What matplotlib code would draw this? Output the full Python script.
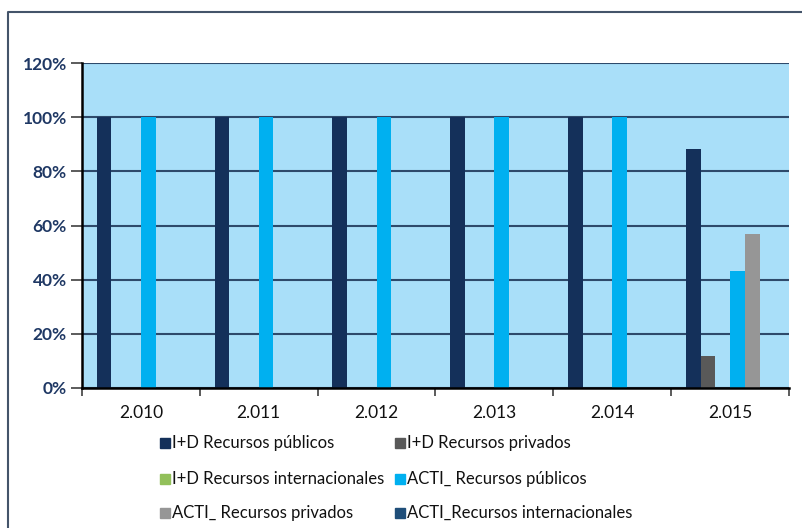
import matplotlib
matplotlib.use("Agg")
import matplotlib.pyplot as plt
import numpy as np
from matplotlib.patches import Rectangle
from matplotlib.lines import Line2D

years = ['2.010', '2.011', '2.012', '2.013', '2.014', '2.015']
series_names = ['I+D Recursos públicos', 'I+D Recursos privados',
                'I+D Recursos internacionales', 'ACTI_ Recursos públicos',
                'ACTI_ Recursos privados', 'ACTI_Recursos internacionales']
id_publicos = [100, 100, 100, 100, 100, 88.2]
id_privados = [0, 0, 0, 0, 0, 11.8]
id_internacionales = [0, 0, 0, 0, 0, 0]
acti_publicos = [100, 100, 100, 100, 100, 43.2]
acti_privados = [0, 0, 0, 0, 0, 56.8]
acti_internacionales = [0, 0, 0, 0, 0, 0]
colors = ['#14305A', '#595959', '#92C05A', '#00B0F0', '#969696', '#1F4E79']
yticks = [0, 20, 40, 60, 80, 100, 120]

plt.rcParams['font.family'] = ['Lato', 'DejaVu Sans']

W, H = 803, 528
fig = plt.figure(figsize=(W / 100, H / 100), dpi=100)

def px(x0, y0, x1, y1):
    return [x0 / W, 1 - y1 / H, (x1 - x0) / W, (y1 - y0) / H]

ax = fig.add_axes(px(82, 63, 789, 388))
ax.set_facecolor('#A9DFF9')

data = [id_publicos, id_privados, id_internacionales,
        acti_publicos, acti_privados, acti_internacionales]
x = np.arange(len(years))
bw = 0.125
for k, vals in enumerate(data):
    ax.bar(x + (k - 2.5) * bw, vals, width=bw, color=colors[k],
           zorder=3, linewidth=0)

ax.set_xlim(-0.5, len(years) - 0.5)
ax.set_ylim(0, 120)
ax.set_yticks(yticks)
ax.set_yticklabels([f'{v}%' for v in yticks], fontsize=12.5, fontweight='bold',
                   color='#1F3864')
ax.yaxis.grid(True, color='#2E4A6B', linewidth=1.5, zorder=1)
ax.set_axisbelow(True)
ax.tick_params(axis='y', direction='out', length=8, width=1.2, color='#404040', pad=3)

ax.set_xticks(x)
ax.set_xticklabels(years, fontsize=12.5, color='#111111')
ax.set_xticks(np.arange(-0.5, len(years)), minor=True)
ax.tick_params(axis='x', which='major', length=0, pad=12)
ax.tick_params(axis='x', which='minor', direction='out', length=6, width=1.2, color='#404040')

for s in ['top', 'right']:
    ax.spines[s].set_visible(False)
for s in ['left', 'bottom']:
    ax.spines[s].set_color('black')
    ax.spines[s].set_linewidth(1.8)
    ax.spines[s].set_zorder(4)

# legend (manual grid: 3 rows x 2 columns)
col_x = [160, 395]
row_y = [443, 479, 513]
for i, name in enumerate(series_names):
    r, c = i // 2, i % 2
    xx, yy = col_x[c], row_y[r]
    fig.patches.append(Rectangle(((xx) / W, 1 - (yy + 5) / H), 10 / W, 10 / H,
                                 transform=fig.transFigure, color=colors[i]))
    fig.text((xx + 12) / W, 1 - yy / H, name, fontsize=12, color='#111111',
             va='center', ha='left')

# outer frame (left and top)
fig.add_artist(Line2D([8 / W, 8 / W, 1.0], [0.0, 1 - 12 / H, 1 - 12 / H],
                      transform=fig.transFigure, color='#44546A', linewidth=1.5))

fig.savefig('out.png', dpi=100)
